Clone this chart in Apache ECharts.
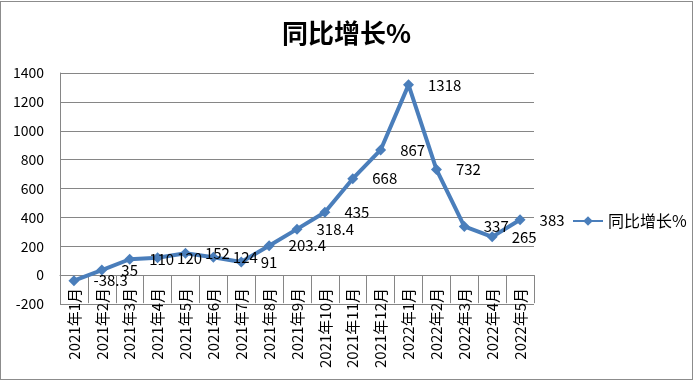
<!DOCTYPE html>
<html><head><meta charset="utf-8">
<script src="https://cdn.jsdelivr.net/npm/echarts@6/dist/echarts.min.js"></script>
<style>
html,body{margin:0;padding:0;background:#fff;width:693px;height:381px;overflow:hidden;}
#c{position:absolute;left:0;top:0;width:693px;height:381px;}
#frame{position:absolute;left:0;top:1px;width:691px;height:377px;border:1px solid #8c8c8c;pointer-events:none;}
</style></head>
<body><div id="c"></div><div id="frame"></div>
<script>
const categories = ['2021年1月','2021年2月','2021年3月','2021年4月','2021年5月','2021年6月','2021年7月','2021年8月','2021年9月','2021年10月','2021年11月','2021年12月','2022年1月','2022年2月','2022年3月','2022年4月','2022年5月'];
const growth = [-38.3, 35, 110, 120, 152, 124, 91, 203.4, 318.4, 435, 668, 867, 1318, 732, 337, 265, 383];
const seriesName = '同比增长%';
const titleText = '同比增长%';

const chart = echarts.init(document.getElementById('c'), null, {renderer:'canvas', width:693, height:381});
const font = '"Noto Sans CJK SC", "Noto Sans", sans-serif';
chart.setOption({
  animation:false,
  backgroundColor:'transparent',
  title:{text:titleText,left:'center',top:15,textStyle:{fontFamily:font,fontSize:26,fontWeight:'bold',color:'#000'}},
  grid:{left:60,right:159,top:73,bottom:77,containLabel:false},
  legend:{left:567,top:208,itemWidth:30,itemHeight:12,itemGap:4,textStyle:{fontFamily:font,fontSize:16,color:'#000'},data:[seriesName]},
  xAxis:{type:'category',data:categories,boundaryGap:true,
    axisLine:{onZero:true,lineStyle:{color:'#868686',width:1}},
    axisTick:{show:true,length:28,inside:false,lineStyle:{color:'#868686'}},
    axisLabel:{rotate:90,interval:0,margin:-16,fontFamily:font,fontSize:15,color:'#000'},
    splitLine:{show:false}},
  yAxis:{type:'value',min:-200,max:1400,interval:200,
    axisLine:{show:true,lineStyle:{color:'#868686'}},
    axisTick:{show:false},
    axisLabel:{margin:16,fontFamily:font,fontSize:14,color:'#000',formatter:function(v){return String(v);}},
    splitLine:{lineStyle:{color:'#868686',width:1}}},
  series:[{name:seriesName,type:'line',data:growth,
    symbol:'diamond',symbolSize:11,
    lineStyle:{color:'#4A7EBB',width:4},
    itemStyle:{color:'#4A7EBB'},
    label:{show:true,position:'right',distance:14,fontFamily:font,fontSize:15,color:'#000'}}]
});
</script></body></html>
